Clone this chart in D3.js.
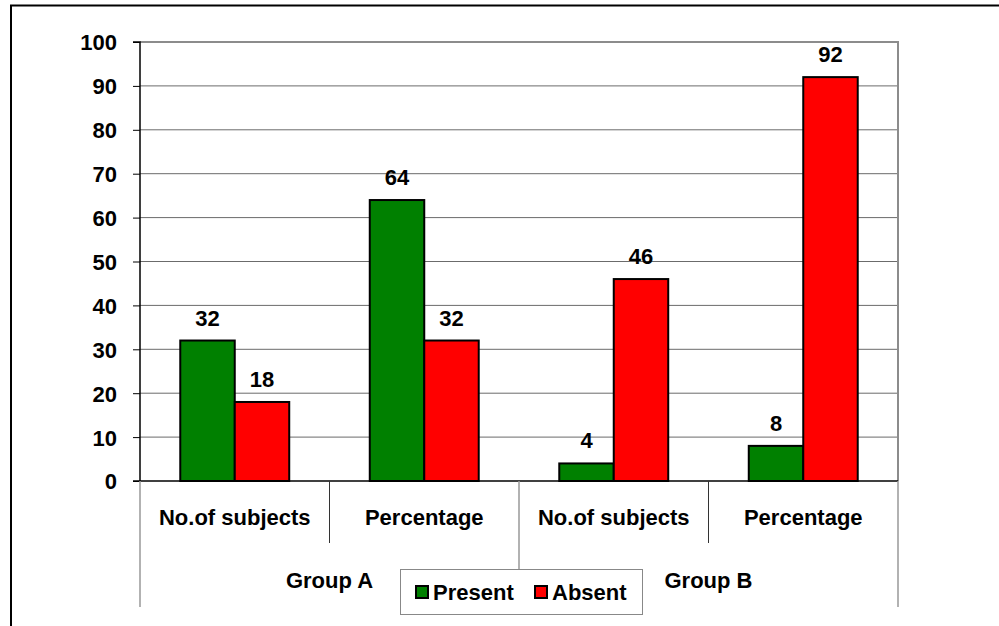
<!DOCTYPE html>
<html><head><meta charset="utf-8">
<script src="https://cdn.jsdelivr.net/npm/d3@7"></script>
<style>body{margin:0;background:#fff}svg{display:block;font-family:"Liberation Sans",Arial,sans-serif;font-weight:bold}</style>
</head><body>
<svg id="c" width="999" height="626"></svg>
<script>
const groups = ["Group A", "Group B"];
const subcats = ["No.of subjects", "Percentage"];
const series = ["Present", "Absent"];
const colors = ["#008000", "#FF0000"];
const present = [32, 64, 4, 8];
const absent = [18, 32, 46, 92];
const yTicks = [0,10,20,30,40,50,60,70,80,90,100];

const svg = d3.select("#c");
const L = 140, R = 898, T = 42, B = 481;
const cats = [];
groups.forEach(g => subcats.forEach(s => cats.push(g + "|" + s)));

const x = d3.scaleBand().domain(cats).range([L, R]).paddingInner(0).paddingOuter(0);
const y = d3.scaleLinear().domain([0, 100]).range([B, T]);
const bw = x.bandwidth() * 0.2875;

// outer border
svg.append("path").attr("d", `M11,626 V5.5 H999`).attr("fill","none").attr("stroke","#000").attr("stroke-width",2);

// gridlines
svg.append("g").selectAll("line").data(yTicks.filter(d=>d>0 && d<100)).join("line")
  .attr("x1", L).attr("x2", R).attr("y1", d=>y(d)).attr("y2", d=>y(d))
  .attr("stroke", "#6b6b6b").attr("stroke-width", 1);
// plot top/right border
svg.append("path").attr("d", `M${L},${y(100)} H${R} V${B}`).attr("fill","none").attr("stroke","#8c8c8c").attr("stroke-width",2);

// y axis
const yAxis = d3.axisLeft(y).tickValues(yTicks).tickSize(7).tickPadding(16);
const ya = svg.append("g").attr("transform", `translate(${L},0)`).call(yAxis);
ya.select(".domain").attr("stroke","#000").attr("stroke-width",1.5).attr("d", `M-7,${y(100)}H0V${B}`);
ya.selectAll(".tick line").attr("stroke","#000");
ya.selectAll(".tick text").attr("font-size", 22).attr("font-weight","bold").attr("fill","#000")
  .attr("font-family","'Liberation Sans',Arial,sans-serif").attr("dy","0.36em");

// bars
const data = [];
cats.forEach((c,i) => {
  data.push({c, s:0, v:present[i]});
  data.push({c, s:1, v:absent[i]});
});
const bx = d => x(d.c) + x.bandwidth()/2 + (d.s === 0 ? -bw : 0);
svg.append("g").selectAll("rect").data(data).join("rect")
  .attr("x", bx).attr("width", bw)
  .attr("y", d => y(d.v)).attr("height", d => B - y(d.v))
  .attr("fill", d => colors[d.s]).attr("stroke", "#000").attr("stroke-width", 2);

// value labels
svg.append("g").selectAll("text").data(data).join("text")
  .attr("x", d => bx(d) + bw/2).attr("y", d => y(d.v) - 15)
  .attr("text-anchor","middle").attr("font-size",22).attr("fill","#000")
  .text(d => d.v);

// category axis
svg.append("line").attr("x1", L-7).attr("x2", R).attr("y1", B).attr("y2", B).attr("stroke","#000").attr("stroke-width",1.5);
// subcategory separators
cats.forEach((c,i) => {
  if (i % 2 === 1) {
    svg.append("line").attr("x1", x(c)).attr("x2", x(c)).attr("y1", B).attr("y2", 543).attr("stroke","#333").attr("stroke-width",1);
  }
});
// group separators
const gx = [L, x(cats[2]), R];
gx.forEach(v => svg.append("line").attr("x1", v).attr("x2", v).attr("y1", B).attr("y2", 607).attr("stroke","#999").attr("stroke-width",1.5));

svg.append("g").selectAll("text").data(cats).join("text")
  .attr("x", d => x(d) + x.bandwidth()/2).attr("y", 525)
  .attr("text-anchor","middle").attr("font-size",22).attr("fill","#000")
  .text(d => d.split("|")[1]);

svg.append("g").selectAll("text").data(groups).join("text")
  .attr("x", (d,i) => (gx[i] + gx[i+1]) / 2).attr("y", 588)
  .attr("text-anchor","middle").attr("font-size",22).attr("fill","#000")
  .text(d => d);

// legend
const lg = svg.append("g");
lg.append("rect").attr("x", 400.5).attr("y", 569.5).attr("width", 242).attr("height", 45)
  .attr("fill","#fff").attr("stroke","#888").attr("stroke-width",1);
const lx = [416, 535];
series.forEach((s,i) => {
  lg.append("rect").attr("x", lx[i]).attr("y", 586).attr("width", 12).attr("height", 12)
    .attr("fill", colors[i]).attr("stroke","#000").attr("stroke-width",2);
  lg.append("text").attr("x", lx[i] + 17).attr("y", 600).attr("font-size",22).attr("fill","#000").text(s);
});
</script>
</body></html>
